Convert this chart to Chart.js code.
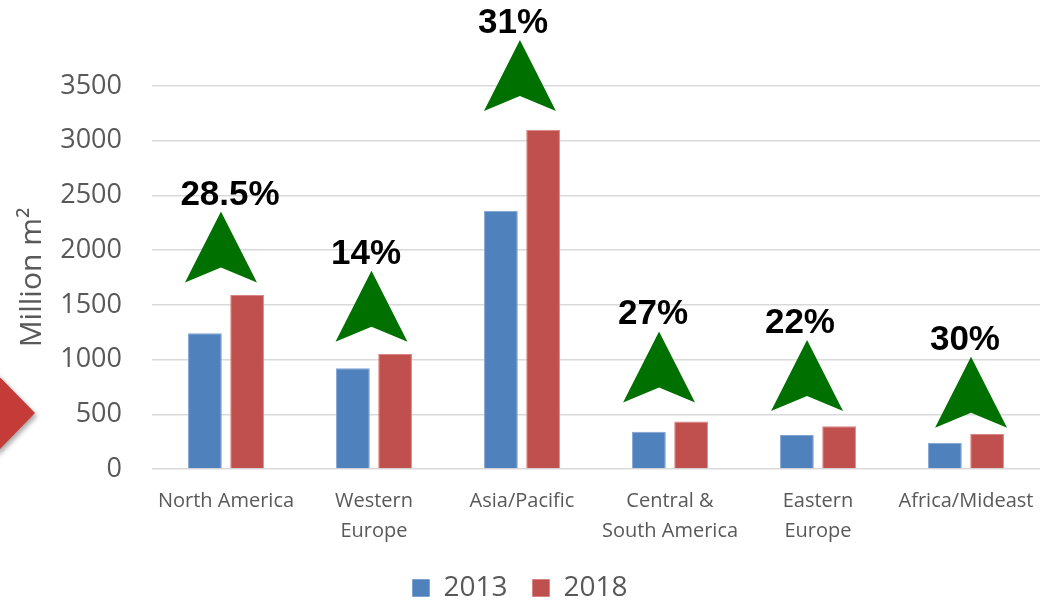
<!DOCTYPE html>
<html>
<head>
<meta charset="utf-8">
<script src="https://cdn.jsdelivr.net/npm/chart.js@4.4.1/dist/chart.umd.min.js"></script>
<style>
    body { margin: 0; background: #ffffff; }
    .box { width: 1056px; height: 601px; position: relative; }
</style>
</head>
<body>
<div class="box">
    <canvas id="areaChart" width="1056" height="601"></canvas>
</div>
<script>

let regions = ["North America", ["Western", "Europe"], "Asia/Pacific", ["Central &", "South America"], ["Eastern", "Europe"], "Africa/Mideast"];

let area2013 = [1240, 920, 2360, 340, 310, 240];
let area2018 = [1590, 1050, 3100, 435, 390, 320];

let growth = ["28.5%", "14%", "31%", "27%", "22%", "30%"];

// where each green arrow sits: base value on the y axis, and a small nudge in category units
let arrowBase = [1704, 1164, 3271, 608, 531, 378];
let arrowShift = [-0.034, -0.017, -0.014, -0.074, -0.074, 0.034];
let labelShift = [0.027, -0.054, -0.061, -0.115, -0.122, -0.007];

let yTicks = [0, 500, 1000, 1500, 2000, 2500, 3000, 3500];


let growthArrows = {
    id: "growthArrows",
    afterDatasetsDraw: function (chart) {
        let ctx = chart.ctx;
        let x = chart.scales.x;
        let y = chart.scales.y;
        let step = x.getPixelForValue(1) - x.getPixelForValue(0);

        ctx.save();
        for (let i = 0; i < regions.length; i++) {
            let cx = x.getPixelForValue(i) + arrowShift[i] * step;
            let base = y.getPixelForValue(arrowBase[i]);
            let tip = base - 71;

            ctx.fillStyle = "#007000";
            ctx.beginPath();
            ctx.moveTo(cx, tip);
            ctx.lineTo(cx + 36, base);
            ctx.lineTo(cx, base - 15);
            ctx.lineTo(cx - 36, base);
            ctx.closePath();
            ctx.fill();

            ctx.fillStyle = "#000000";
            ctx.font = "bold 35px 'Liberation Sans', Arial, sans-serif";
            ctx.textAlign = "center";
            ctx.textBaseline = "alphabetic";
            ctx.fillText(growth[i], x.getPixelForValue(i) + labelShift[i] * step, tip - 7);
        }
        ctx.restore();
    }
};

// the red marker cut off at the left edge of the slide
let sideMarker = {
    id: "sideMarker",
    afterDraw: function (chart) {
        let ctx = chart.ctx;
        ctx.save();
        ctx.shadowColor = "rgba(0,0,0,0.35)";
        ctx.shadowBlur = 5;
        ctx.shadowOffsetX = 2;
        ctx.shadowOffsetY = 3;
        ctx.fillStyle = "#c53b37";
        ctx.beginPath();
        ctx.moveTo(-5, 372);
        ctx.lineTo(35, 413);
        ctx.lineTo(-5, 454);
        ctx.closePath();
        ctx.fill();
        ctx.restore();
    }
};


const ctx = document.getElementById("areaChart");

new Chart(ctx, {
    type: "bar",

    data: {
        labels: regions,

        datasets: [{
            label: "2013",
            data: area2013,
            backgroundColor: "#4f81bd",
            borderColor: "#7ea3d3",
            borderWidth: 1
        }, {
            label: "2018",
            data: area2018,
            backgroundColor: "#c0504d",
            borderColor: "#d98583",
            borderWidth: 1
        }]
    },

    options: {
        responsive: false,
        animation: false,
        layout: {
            padding: { top: 86, right: 16, bottom: -11, left: 0 }
        },
        datasets: {
            bar: {
                categoryPercentage: 0.57,
                barPercentage: 0.8
            }
        },
        plugins: {
            tooltip: { enabled: false },
            legend: {
                position: "bottom",
                labels: {
                    color: "#595959",
                    boxWidth: 17,
                    boxHeight: 17,
                    padding: 25,
                    font: { family: "'Open Sans'", size: 28 }
                }
            }
        },
        scales: {
            x: {
                grid: { display: false },
                border: { display: false },
                ticks: {
                    color: "#595959",
                    maxRotation: 0,
                    autoSkip: false,
                    padding: 9,
                    font: { family: "'Open Sans'", size: 20, lineHeight: 1.5 }
                },
                afterFit: function (scale) {
                    scale.height = 80;
                }
            },
            y: {
                min: 0,
                max: 3500,
                afterBuildTicks: function (scale) {
                    scale.ticks = yTicks.map(function (v) { return { value: v }; });
                },
                grid: { color: "#d9d9d9", lineWidth: 1.5, drawTicks: false },
                border: { display: false },
                ticks: {
                    color: "#595959",
                    padding: 30,
                    font: { family: "'Open Sans'", size: 27 },
                    callback: function (value) {
                        return String(value);
                    }
                },
                title: {
                    display: true,
                    text: "Million m²",
                    color: "#595959",
                    padding: { top: 14, bottom: 0 },
                    font: { family: "'Open Sans'", size: 30 }
                },
                afterFit: function (scale) {
                    scale.width = 152;
                }
            }
        }
    },

    plugins: [growthArrows, sideMarker]
});

</script>
</body>
</html>
